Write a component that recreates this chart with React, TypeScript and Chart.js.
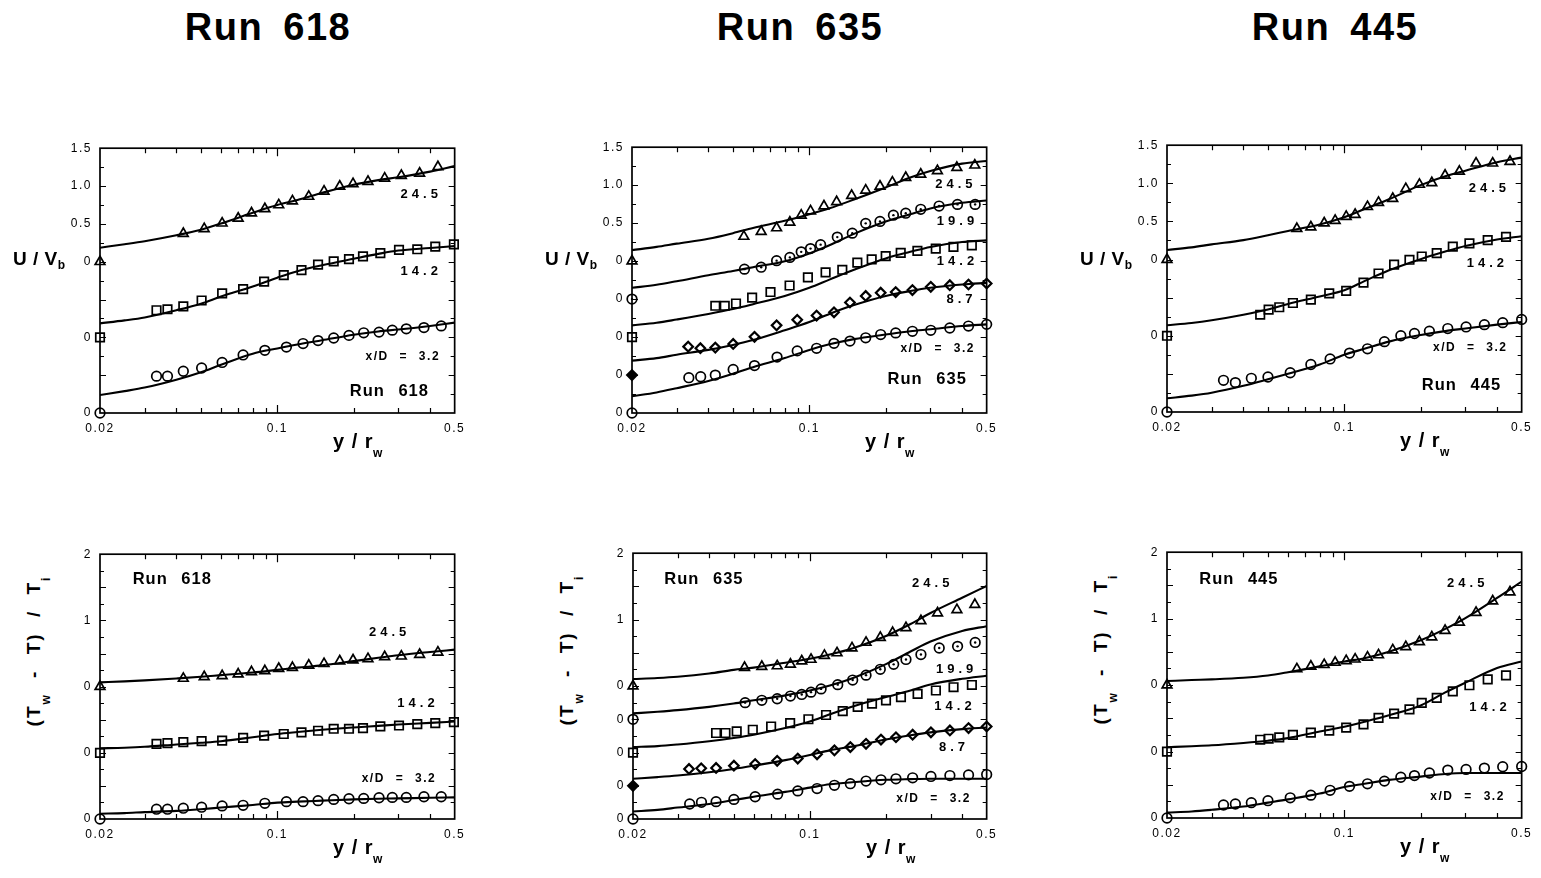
import React, { useEffect, useRef } from 'react';
import { Chart, registerables } from 'chart.js';

Chart.register(...registerables);

const FONT = "'Liberation Sans', Arial, Helvetica, sans-serif";

// ---------- labels ----------
const RUNS = ['Run 618', 'Run 635', 'Run 445'];

// ---------- axes ----------
const CURVE_X = [0.02, 0.025, 0.03, 0.04, 0.05, 0.06, 0.08, 0.1, 0.12, 0.15, 0.2, 0.25, 0.3, 0.4, 0.5];
const X_TICKS = [0.02, 0.03, 0.04, 0.05, 0.06, 0.07, 0.08, 0.09, 0.1, 0.2, 0.3, 0.4, 0.5];
const X_TICK_TEXT: [number, string][] = [[0.02, '0.02'], [0.1, '0.1'], [0.5, '0.5']];
const U_TICK_TEXT: [number, string][] = [[1.5, '1.5'], [1.0, '1.0'], [0.5, '0.5']];
const T_TICK_TEXT: [number, string][] = [[2, '2'], [1, '1']];
const OFFSETS_3 = [0, -1, -2];
const OFFSETS_5 = [0, -0.5, -1, -1.5, -2];

// ---------- Run 618 ----------
const X618_245 = [0.0426, 0.0515, 0.0606, 0.0701, 0.0791, 0.0893, 0.1013, 0.1147, 0.133, 0.1528, 0.1762, 0.1988, 0.2277, 0.2649, 0.3082, 0.3638, 0.4295];
const X618_142 = [0.0334, 0.0369, 0.0426, 0.0503, 0.0606, 0.0733, 0.0887, 0.106, 0.1245, 0.1447, 0.1668, 0.1916, 0.2176, 0.2547, 0.3017, 0.3562, 0.4193, 0.4966];
const X618_32 = [0.0334, 0.0369, 0.0426, 0.0503, 0.0606, 0.0733, 0.0893, 0.1086, 0.1263, 0.1447, 0.1668, 0.1916, 0.219, 0.2517, 0.2839, 0.3224, 0.3784, 0.4427];
const U618_245 = [0.371, 0.435, 0.509, 0.573, 0.642, 0.698, 0.75, 0.802, 0.862, 0.931, 0.996, 1.03, 1.06, 1.103, 1.138, 1.168, 1.254];
const U618_142 = [0.358, 0.371, 0.409, 0.487, 0.582, 0.638, 0.737, 0.823, 0.888, 0.961, 1.004, 1.034, 1.069, 1.112, 1.155, 1.164, 1.198, 1.228];
const U618_32 = [0.487, 0.487, 0.552, 0.595, 0.668, 0.767, 0.828, 0.871, 0.918, 0.957, 0.991, 1.026, 1.06, 1.069, 1.095, 1.112, 1.129, 1.151];
const U618C_245 = [0.185, 0.23, 0.27, 0.349, 0.422, 0.504, 0.647, 0.75, 0.815, 0.909, 1.017, 1.078, 1.116, 1.19, 1.263];
const U618C_142 = [0.185, 0.224, 0.263, 0.358, 0.444, 0.539, 0.672, 0.789, 0.875, 0.953, 1.039, 1.103, 1.147, 1.181, 1.207];
const U618C_32 = [0.237, 0.289, 0.336, 0.44, 0.539, 0.638, 0.784, 0.853, 0.905, 0.961, 1.034, 1.078, 1.103, 1.151, 1.194];
const T618_245 = [0.123, 0.148, 0.163, 0.188, 0.222, 0.237, 0.272, 0.286, 0.321, 0.346, 0.385, 0.4, 0.42, 0.449, 0.459, 0.484, 0.519];
const T618_142 = [0.136, 0.146, 0.16, 0.175, 0.185, 0.225, 0.259, 0.284, 0.309, 0.333, 0.363, 0.363, 0.373, 0.398, 0.412, 0.432, 0.447, 0.462];
const T618_32 = [0.148, 0.148, 0.163, 0.178, 0.198, 0.207, 0.237, 0.262, 0.262, 0.277, 0.296, 0.306, 0.311, 0.321, 0.326, 0.326, 0.336, 0.336];
const T618C_245 = [0.064, 0.079, 0.094, 0.123, 0.148, 0.173, 0.212, 0.252, 0.286, 0.321, 0.385, 0.435, 0.474, 0.523, 0.558];
const T618C_142 = [0.067, 0.077, 0.091, 0.126, 0.151, 0.175, 0.235, 0.284, 0.314, 0.348, 0.383, 0.407, 0.427, 0.452, 0.472];
const T618C_32 = [0.079, 0.089, 0.104, 0.123, 0.148, 0.173, 0.212, 0.247, 0.262, 0.277, 0.296, 0.306, 0.311, 0.321, 0.326];

// ---------- Run 635 ----------
const X635_245 = [0.0552, 0.0646, 0.0743, 0.0838, 0.0929, 0.1011, 0.1142, 0.1281, 0.1468, 0.1668, 0.1899, 0.2125, 0.2399, 0.2749, 0.3198, 0.3814, 0.449];
const X635_199 = [0.0555, 0.0646, 0.0743, 0.0838, 0.0929, 0.1011, 0.1108, 0.1289, 0.1477, 0.1668, 0.1899, 0.2145, 0.2399, 0.2749, 0.3247, 0.3837, 0.4504];
const X635_142 = [0.0426, 0.0464, 0.0514, 0.0595, 0.0703, 0.0836, 0.0987, 0.1159, 0.1349, 0.1546, 0.1761, 0.2, 0.2292, 0.2667, 0.315, 0.3699, 0.437];
const X635_87 = [0.0333, 0.0372, 0.0426, 0.0501, 0.0608, 0.0743, 0.0896, 0.1068, 0.1251, 0.1446, 0.1668, 0.1911, 0.219, 0.2549, 0.3011, 0.3578, 0.424, 0.5];
const X635_32 = [0.0335, 0.0373, 0.0426, 0.0501, 0.0608, 0.0746, 0.0896, 0.1068, 0.1251, 0.1446, 0.1668, 0.1911, 0.219, 0.2549, 0.3011, 0.3578, 0.424, 0.5];
const U635_245 = [0.325, 0.389, 0.437, 0.51, 0.604, 0.66, 0.725, 0.781, 0.863, 0.933, 0.984, 1.039, 1.1, 1.143, 1.19, 1.233, 1.263];
const U635_199 = [0.394, 0.42, 0.506, 0.549, 0.622, 0.665, 0.717, 0.816, 0.868, 0.997, 1.023, 1.105, 1.131, 1.182, 1.225, 1.247, 1.247];
const U635_142 = [0.412, 0.412, 0.442, 0.52, 0.593, 0.679, 0.787, 0.851, 0.886, 0.98, 1.023, 1.066, 1.109, 1.135, 1.165, 1.187, 1.208];
const U635_87 = [0.374, 0.353, 0.361, 0.409, 0.503, 0.654, 0.727, 0.783, 0.826, 0.955, 1.041, 1.084, 1.093, 1.119, 1.162, 1.183, 1.192, 1.205];
const U635_32 = [0.465, 0.478, 0.499, 0.573, 0.624, 0.736, 0.818, 0.852, 0.917, 0.947, 0.99, 1.033, 1.055, 1.076, 1.089, 1.119, 1.145, 1.167];
const U635C_245 = [0.144, 0.187, 0.23, 0.294, 0.368, 0.437, 0.531, 0.617, 0.695, 0.811, 0.97, 1.1, 1.186, 1.284, 1.319];
const U635C_199 = [0.149, 0.188, 0.235, 0.315, 0.37, 0.42, 0.498, 0.601, 0.708, 0.859, 1.022, 1.117, 1.194, 1.268, 1.298];
const U635C_142 = [0.154, 0.188, 0.231, 0.304, 0.369, 0.433, 0.541, 0.649, 0.756, 0.886, 1.036, 1.122, 1.187, 1.251, 1.273];
const U635C_87 = [0.189, 0.223, 0.267, 0.331, 0.396, 0.46, 0.589, 0.697, 0.805, 0.921, 1.041, 1.106, 1.149, 1.192, 1.214];
const U635C_32 = [0.22, 0.271, 0.327, 0.422, 0.517, 0.603, 0.723, 0.831, 0.904, 0.973, 1.033, 1.076, 1.102, 1.145, 1.167];
const T635_245 = [0.278, 0.293, 0.303, 0.327, 0.376, 0.401, 0.46, 0.499, 0.573, 0.657, 0.731, 0.804, 0.878, 0.982, 1.1, 1.149, 1.227];
const T635_199 = [0.251, 0.286, 0.31, 0.35, 0.374, 0.409, 0.458, 0.522, 0.591, 0.665, 0.753, 0.827, 0.901, 0.975, 1.073, 1.098, 1.157];
const T635_142 = [0.294, 0.294, 0.319, 0.343, 0.392, 0.442, 0.501, 0.565, 0.624, 0.688, 0.737, 0.786, 0.835, 0.884, 0.934, 0.983, 1.017];
const T635_87 = [0.253, 0.263, 0.268, 0.302, 0.327, 0.376, 0.41, 0.474, 0.533, 0.583, 0.632, 0.696, 0.73, 0.769, 0.804, 0.833, 0.868, 0.892];
const T635_32 = [0.226, 0.251, 0.261, 0.295, 0.335, 0.374, 0.423, 0.458, 0.507, 0.531, 0.571, 0.59, 0.605, 0.62, 0.64, 0.654, 0.664, 0.669];
const T635C_245 = [0.106, 0.121, 0.14, 0.189, 0.244, 0.278, 0.352, 0.411, 0.475, 0.578, 0.755, 0.935, 1.1, 1.33, 1.508];
const T635C_199 = [0.089, 0.114, 0.138, 0.187, 0.237, 0.286, 0.36, 0.433, 0.51, 0.63, 0.83, 1.02, 1.17, 1.33, 1.402];
const T635C_142 = [0.082, 0.097, 0.122, 0.171, 0.22, 0.269, 0.368, 0.466, 0.575, 0.7, 0.835, 0.934, 1.025, 1.11, 1.156];
const T635C_87 = [0.105, 0.13, 0.154, 0.204, 0.253, 0.302, 0.386, 0.464, 0.533, 0.597, 0.696, 0.76, 0.804, 0.853, 0.878];
const T635C_32 = [0.113, 0.138, 0.172, 0.226, 0.285, 0.335, 0.408, 0.472, 0.522, 0.556, 0.59, 0.6, 0.605, 0.605, 0.605];

// ---------- Run 445 ----------
const X445_245 = [0.065, 0.0738, 0.0833, 0.092, 0.1017, 0.1103, 0.1234, 0.1364, 0.1552, 0.1747, 0.1977, 0.2212, 0.2495, 0.2841, 0.3305, 0.3844, 0.4498];
const X445_142 = [0.0466, 0.0503, 0.0554, 0.0627, 0.0738, 0.0872, 0.1017, 0.119, 0.1364, 0.1571, 0.1806, 0.2019, 0.2313, 0.2676, 0.3112, 0.3674, 0.4338];
const X445_32 = [0.0334, 0.0372, 0.043, 0.05, 0.0612, 0.0738, 0.0879, 0.1048, 0.1234, 0.1439, 0.167, 0.189, 0.2164, 0.2557, 0.3019, 0.3565, 0.421, 0.5];
const U445_245 = [0.405, 0.426, 0.478, 0.512, 0.564, 0.59, 0.693, 0.748, 0.799, 0.929, 0.985, 1.006, 1.105, 1.156, 1.264, 1.264, 1.285];
const U445_142 = [0.276, 0.344, 0.374, 0.43, 0.473, 0.555, 0.589, 0.696, 0.817, 0.933, 0.997, 1.04, 1.083, 1.169, 1.211, 1.254, 1.297];
const U445_32 = [0.416, 0.386, 0.442, 0.459, 0.515, 0.623, 0.696, 0.773, 0.829, 0.923, 1.0, 1.03, 1.061, 1.095, 1.116, 1.146, 1.172, 1.215];
const U445C_245 = [0.126, 0.16, 0.199, 0.255, 0.319, 0.375, 0.461, 0.555, 0.662, 0.791, 0.976, 1.092, 1.165, 1.277, 1.337];
const U445C_142 = [0.138, 0.168, 0.203, 0.276, 0.344, 0.417, 0.516, 0.597, 0.717, 0.859, 1.005, 1.104, 1.177, 1.263, 1.306];
const U445C_32 = [0.18, 0.215, 0.253, 0.343, 0.429, 0.502, 0.623, 0.751, 0.829, 0.923, 1.009, 1.061, 1.095, 1.146, 1.181];
const T445_245 = [0.243, 0.282, 0.307, 0.341, 0.366, 0.39, 0.419, 0.454, 0.528, 0.577, 0.65, 0.724, 0.822, 0.945, 1.092, 1.264, 1.401];
const T445_142 = [0.178, 0.193, 0.212, 0.252, 0.286, 0.315, 0.36, 0.409, 0.507, 0.571, 0.635, 0.733, 0.807, 0.905, 0.998, 1.086, 1.145];
const T445_32 = [0.196, 0.211, 0.231, 0.26, 0.304, 0.344, 0.417, 0.476, 0.515, 0.555, 0.613, 0.638, 0.677, 0.721, 0.731, 0.751, 0.771, 0.775];
const T445C_245 = [0.061, 0.076, 0.086, 0.11, 0.145, 0.194, 0.282, 0.356, 0.405, 0.503, 0.675, 0.847, 1.009, 1.313, 1.558];
const T445C_142 = [0.065, 0.08, 0.094, 0.129, 0.163, 0.202, 0.301, 0.374, 0.448, 0.546, 0.693, 0.89, 1.037, 1.258, 1.356];
const T445C_32 = [0.083, 0.098, 0.123, 0.172, 0.231, 0.28, 0.368, 0.466, 0.515, 0.574, 0.623, 0.663, 0.677, 0.677, 0.677];

// ---------- in-plot notes (data coordinates) ----------
type Note = { text: string; x: number; y: number; align: 'left' | 'right' };
const NOTES_U618: Note[] = [
  { text: '24.5', x: 0.4295, y: 0.888, align: 'right' },
  { text: '14.2', x: 0.4295, y: -0.125, align: 'right' },
  { text: 'x/D = 3.2', x: 0.432, y: -1.259, align: 'right' },
  { text: 'Run 618', x: 0.3924, y: -1.72, align: 'right' },
];
const NOTES_U635: Note[] = [
  { text: '24.5', x: 0.4396, y: 1.005, align: 'right' },
  { text: '19.9', x: 0.4463, y: 0.523, align: 'right' },
  { text: '14.2', x: 0.4463, y: -0.007, align: 'right' },
  { text: '8.7', x: 0.4396, y: -0.502, align: 'right' },
  { text: 'x/D = 3.2', x: 0.4436, y: -1.148, align: 'right' },
  { text: 'Run 635', x: 0.4138, y: -1.556, align: 'right' },
];
const NOTES_U445: Note[] = [
  { text: '24.5', x: 0.4338, y: 0.933, align: 'right' },
  { text: '14.2', x: 0.4259, y: -0.046, align: 'right' },
  { text: 'x/D = 3.2', x: 0.4338, y: -1.162, align: 'right' },
  { text: 'Run 445', x: 0.411, y: -1.656, align: 'right' },
];
const NOTES_T618: Note[] = [
  { text: 'Run 618', x: 0.0269, y: 1.62, align: 'left' },
  { text: '24.5', x: 0.3224, y: 0.815, align: 'right' },
  { text: '14.2', x: 0.417, y: -0.257, align: 'right' },
  { text: 'x/D = 3.2', x: 0.417, y: -1.393, align: 'right' },
];
const NOTES_T635: Note[] = [
  { text: 'Run 635', x: 0.0266, y: 1.606, align: 'left' },
  { text: '24.5', x: 0.3561, y: 1.542, align: 'right' },
  { text: '19.9', x: 0.4429, y: 0.253, align: 'right' },
  { text: '14.2', x: 0.4362, y: -0.312, align: 'right' },
  { text: '8.7', x: 0.4106, y: -0.917, align: 'right' },
  { text: 'x/D = 3.2', x: 0.427, y: -1.69, align: 'right' },
];
const NOTES_T445: Note[] = [
  { text: 'Run 445', x: 0.0268, y: 1.593, align: 'left' },
  { text: '24.5', x: 0.3565, y: 1.524, align: 'right' },
  { text: '14.2', x: 0.4363, y: -0.331, align: 'right' },
  { text: 'x/D = 3.2', x: 0.4233, y: -1.68, align: 'right' },
];

// ---------- layout / styles ----------
type Sym = 'tri' | 'cdot' | 'sq' | 'dia' | 'circ';
const SYM_STYLE: Record<Sym, { style: string; radius: number }> = {
  tri: { style: 'triangle', radius: 5.6 },
  cdot: { style: 'circle', radius: 4.8 },
  sq: { style: 'rect', radius: 6 },
  dia: { style: 'rectRot', radius: 4.8 },
  circ: { style: 'circle', radius: 4.8 },
};

type Series = { sym: Sym; offset: number; x: number[]; y: number[]; curve: number[] };
type Panel = {
  row: number;
  box: [number, number, number, number];
  yMin: number;
  yMax: number;
  yText: [number, string][];
  series: Series[];
  notes: Note[];
};

const AXIS_W = 44;
const PAD_T = 10;
const PAD_R = 16;
const AXIS_H = 26;

const PANELS: Panel[] = [
  {
    row: 0, box: [100, 143, 455, 413], yMin: -2, yMax: 1.5, yText: U_TICK_TEXT, notes: NOTES_U618,
    series: [
      { sym: 'tri', offset: OFFSETS_3[0], x: X618_245, y: U618_245, curve: U618C_245 },
      { sym: 'sq', offset: OFFSETS_3[1], x: X618_142, y: U618_142, curve: U618C_142 },
      { sym: 'circ', offset: OFFSETS_3[2], x: X618_32, y: U618_32, curve: U618C_32 },
    ],
  },
  {
    row: 0, box: [632, 142, 987, 413], yMin: -2, yMax: 1.5, yText: U_TICK_TEXT, notes: NOTES_U635,
    series: [
      { sym: 'tri', offset: OFFSETS_5[0], x: X635_245, y: U635_245, curve: U635C_245 },
      { sym: 'cdot', offset: OFFSETS_5[1], x: X635_199, y: U635_199, curve: U635C_199 },
      { sym: 'sq', offset: OFFSETS_5[2], x: X635_142, y: U635_142, curve: U635C_142 },
      { sym: 'dia', offset: OFFSETS_5[3], x: X635_87, y: U635_87, curve: U635C_87 },
      { sym: 'circ', offset: OFFSETS_5[4], x: X635_32, y: U635_32, curve: U635C_32 },
    ],
  },
  {
    row: 0, box: [1167, 140, 1522, 412], yMin: -2, yMax: 1.5, yText: U_TICK_TEXT, notes: NOTES_U445,
    series: [
      { sym: 'tri', offset: OFFSETS_3[0], x: X445_245, y: U445_245, curve: U445C_245 },
      { sym: 'sq', offset: OFFSETS_3[1], x: X445_142, y: U445_142, curve: U445C_142 },
      { sym: 'circ', offset: OFFSETS_3[2], x: X445_32, y: U445_32, curve: U445C_32 },
    ],
  },
  {
    row: 1, box: [100, 549, 455, 819], yMin: -2, yMax: 2, yText: T_TICK_TEXT, notes: NOTES_T618,
    series: [
      { sym: 'tri', offset: OFFSETS_3[0], x: X618_245, y: T618_245, curve: T618C_245 },
      { sym: 'sq', offset: OFFSETS_3[1], x: X618_142, y: T618_142, curve: T618C_142 },
      { sym: 'circ', offset: OFFSETS_3[2], x: X618_32, y: T618_32, curve: T618C_32 },
    ],
  },
  {
    row: 1, box: [633, 548, 987, 819], yMin: -2, yMax: 2, yText: T_TICK_TEXT, notes: NOTES_T635,
    series: [
      { sym: 'tri', offset: OFFSETS_5[0], x: X635_245, y: T635_245, curve: T635C_245 },
      { sym: 'cdot', offset: OFFSETS_5[1], x: X635_199, y: T635_199, curve: T635C_199 },
      { sym: 'sq', offset: OFFSETS_5[2], x: X635_142, y: T635_142, curve: T635C_142 },
      { sym: 'dia', offset: OFFSETS_5[3], x: X635_87, y: T635_87, curve: T635C_87 },
      { sym: 'circ', offset: OFFSETS_5[4], x: X635_32, y: T635_32, curve: T635C_32 },
    ],
  },
  {
    row: 1, box: [1167, 547, 1522, 818], yMin: -2, yMax: 2, yText: T_TICK_TEXT, notes: NOTES_T445,
    series: [
      { sym: 'tri', offset: OFFSETS_3[0], x: X445_245, y: T445_245, curve: T445C_245 },
      { sym: 'sq', offset: OFFSETS_3[1], x: X445_142, y: T445_142, curve: T445C_142 },
      { sym: 'circ', offset: OFFSETS_3[2], x: X445_32, y: T445_32, curve: T445C_32 },
    ],
  },
];

const near = (a: number, b: number) => Math.abs(a - b) < 1e-9;

function buildDatasets(panel: Panel) {
  const ds: any[] = [];
  panel.series.forEach((s) => {
    const st = SYM_STYLE[s.sym];
    const bw = s.sym === 'dia' ? 2.2 : 1.7;
    // model curve
    ds.push({
      data: CURVE_X.map((x, i) => ({ x, y: s.curve[i] + s.offset })),
      showLine: true,
      borderColor: '#000',
      borderWidth: 2.1,
      pointRadius: 0,
      cubicInterpolationMode: 'monotone',
      fill: false,
    });
    // measurements
    const pts = s.x.map((x, i) => ({ x, y: s.y[i] + s.offset }));
    ds.push({
      data: pts,
      showLine: false,
      pointStyle: st.style,
      pointRadius: st.radius,
      pointBorderColor: '#000',
      pointBackgroundColor: 'rgba(0,0,0,0)',
      pointBorderWidth: bw,
      clip: false,
    });
    if (s.sym === 'cdot') {
      ds.push({ data: pts, showLine: false, pointStyle: 'circle', pointRadius: 1.2, pointBorderWidth: 0, pointBackgroundColor: '#000', clip: false });
    }
    // zero marker on the axis
    const zero = [{ x: CURVE_X[0], y: s.offset }];
    ds.push({
      data: zero,
      showLine: false,
      pointStyle: st.style,
      pointRadius: st.radius,
      pointBorderColor: '#000',
      pointBackgroundColor: s.sym === 'dia' ? '#000' : 'rgba(0,0,0,0)',
      pointBorderWidth: bw,
      clip: false,
    });
    if (s.sym === 'cdot') {
      ds.push({ data: zero, showLine: false, pointStyle: 'circle', pointRadius: 1.2, pointBorderWidth: 0, pointBackgroundColor: '#000', clip: false });
    }
  });
  return ds;
}

function yTickValues(panel: Panel) {
  const out: number[] = [];
  for (let v = panel.yMin; v <= panel.yMax + 1e-9; v += 0.25) out.push(Math.round(v * 100) / 100);
  return out;
}

function makePlugin(panel: Panel) {
  return {
    id: 'frameTicksNotes',
    beforeDraw(chart: any) {
      (chart.ctx as any).letterSpacing = '1.5px';
    },
    afterDraw(chart: any) {
      const { ctx, chartArea: a, scales } = chart;
      const xs = scales.x;
      const ys = scales.y;
      ctx.save();
      (ctx as any).letterSpacing = '0px';
      ctx.strokeStyle = '#000';
      ctx.lineWidth = 1.2;
      ctx.beginPath();
      X_TICKS.forEach((v) => {
        if (near(v, 0.02) || near(v, 0.5)) return;
        const px = Math.round(xs.getPixelForValue(v)) + 0.5;
        const len = near(v, 0.1) ? 8 : 5;
        ctx.moveTo(px, a.bottom);
        ctx.lineTo(px, a.bottom - len);
        ctx.moveTo(px, a.top);
        ctx.lineTo(px, a.top + len);
      });
      yTickValues(panel).forEach((v) => {
        if (near(v, panel.yMin) || near(v, panel.yMax)) return;
        const py = Math.round(ys.getPixelForValue(v)) + 0.5;
        const major = Math.abs(v * 2 - Math.round(v * 2)) < 1e-6;
        const len = major ? 6 : 4;
        ctx.moveTo(a.left, py);
        ctx.lineTo(a.left + len, py);
        ctx.moveTo(a.right, py);
        ctx.lineTo(a.right - len, py);
      });
      ctx.stroke();
      ctx.lineWidth = 1.7;
      ctx.strokeRect(a.left, a.top, a.right - a.left, a.bottom - a.top);

      ctx.fillStyle = '#000';
      ctx.textBaseline = 'middle';
      panel.notes.forEach((n) => {
        let size = 13;
        let spacing = 4;
        let word = 0;
        if (n.text.startsWith('Run')) {
          size = 16.5;
          spacing = 1;
          word = 8;
        } else if (n.text.startsWith('x/D')) {
          size = 12;
          spacing = 1.5;
          word = 6;
        }
        ctx.font = `bold ${size}px ${FONT}`;
        (ctx as any).letterSpacing = `${spacing}px`;
        (ctx as any).wordSpacing = `${word}px`;
        ctx.textAlign = n.align;
        const px = xs.getPixelForValue(n.x) + (n.align === 'right' ? spacing : 0);
        const py = ys.getPixelForValue(n.y);
        ctx.fillText(n.text, px, py);
      });
      (ctx as any).letterSpacing = '0px';
      (ctx as any).wordSpacing = '0px';
      ctx.restore();
    },
  };
}

function PanelChart({ panel }: { panel: Panel }) {
  const ref = useRef<HTMLCanvasElement>(null);
  const [l, t, r, b] = panel.box;
  const W = r - l + AXIS_W + PAD_R;
  const H = b - t + PAD_T + AXIS_H;
  useEffect(() => {
    if (!ref.current) return;
    const yTicks = yTickValues(panel);
    const chart = new Chart(ref.current, {
      type: 'scatter',
      data: { datasets: buildDatasets(panel) },
      options: {
        animation: false,
        responsive: false,
        maintainAspectRatio: false,
        devicePixelRatio: 1,
        events: [],
        layout: { padding: { top: PAD_T, right: PAD_R, left: 0, bottom: 0 } },
        plugins: { legend: { display: false }, tooltip: { enabled: false }, title: { display: false } },
        scales: {
          x: {
            type: 'logarithmic',
            min: 0.02,
            max: 0.5,
            bounds: 'data',
            grid: { display: false, drawTicks: false, tickLength: 0 },
            border: { display: false },
            afterBuildTicks: (s: any) => {
              s.ticks = X_TICKS.map((v) => ({ value: v }));
            },
            afterFit: (s: any) => {
              s.height = AXIS_H;
            },
            ticks: {
              autoSkip: false,
              maxRotation: 0,
              minRotation: 0,
              padding: 8,
              color: '#000',
              font: { family: FONT, size: 12 },
              callback: (v: any) => {
                const hit = X_TICK_TEXT.find(([k]) => near(k, Number(v)));
                return hit ? hit[1] : '';
              },
            },
          },
          y: {
            type: 'linear',
            min: panel.yMin,
            max: panel.yMax,
            bounds: 'data',
            grid: { display: false, drawTicks: false, tickLength: 0 },
            border: { display: false },
            afterBuildTicks: (s: any) => {
              s.ticks = yTicks.map((v) => ({ value: v }));
            },
            afterFit: (s: any) => {
              s.width = AXIS_W;
            },
            ticks: {
              autoSkip: false,
              padding: 8,
              color: '#000',
              font: { family: FONT, size: 12 },
              callback: (v: any) => {
                const n = Number(v);
                const hit = panel.yText.find(([k]) => near(k, n));
                if (hit) return hit[1];
                if (panel.series.some((s) => near(s.offset, n))) return '0';
                return '';
              },
            },
          },
        },
      } as any,
      plugins: [makePlugin(panel)],
    });
    return () => chart.destroy();
  }, [panel]);
  return (
    <canvas
      ref={ref}
      width={W}
      height={H}
      style={{ position: 'absolute', left: l - AXIS_W, top: t - PAD_T, width: W, height: H }}
    />
  );
}

const BASE = 0.8465;

function Label({ x, baseline, size, align, children, style }: any) {
  const common: any = {
    position: 'absolute',
    top: baseline - BASE * size,
    fontSize: size,
    lineHeight: `${size}px`,
    fontWeight: 'bold',
    whiteSpace: 'pre',
    fontFamily: FONT,
    color: '#000',
    ...style,
  };
  if (align === 'center') {
    return <div style={{ ...common, left: x - 200, width: 400, textAlign: 'center' }}>{children}</div>;
  }
  return <div style={{ ...common, left: x }}>{children}</div>;
}

const TITLE_CENTERS = [268, 800, 1335];

export default function App() {
  return (
    <div
      style={{
        position: 'absolute',
        left: 0,
        top: 0,
        width: 1541,
        height: 878,
        background: '#fff',
        overflow: 'hidden',
        fontFamily: FONT,
      }}
    >
      {RUNS.map((r, i) => (
        <Label key={r} x={TITLE_CENTERS[i]} baseline={40} size={38} align="center" style={{ letterSpacing: '1.5px', wordSpacing: '8px' }}>
          {r}
        </Label>
      ))}
      {PANELS.map((p, i) => (
        <PanelChart key={i} panel={p} />
      ))}
      {PANELS.map((p, i) => {
        const [l, t, , b] = p.box;
        return (
          <React.Fragment key={'t' + i}>
            <Label x={l + 233} baseline={b + 35} size={20} align="left" style={{ letterSpacing: '0.5px', wordSpacing: '1px' }}>
              {'y / r'}
              <span style={{ position: 'relative', top: 9, fontSize: 12, letterSpacing: 0 }}>w</span>
            </Label>
            {p.row === 0 ? (
              <Label x={l - 87} baseline={265} size={19} align="left" style={{ letterSpacing: '0.5px' }}>
                {'U / V'}
                <span style={{ position: 'relative', top: 4, fontSize: 12, letterSpacing: 0 }}>b</span>
              </Label>
            ) : (
              <div
                style={{
                  position: 'absolute',
                  left: l - 65,
                  top: t + 102,
                  transform: 'translate(-50%, -50%) rotate(-90deg)',
                  fontSize: 19,
                  lineHeight: '19px',
                  fontWeight: 'bold',
                  whiteSpace: 'pre',
                  letterSpacing: '2px',
                  wordSpacing: '8px',
                  fontFamily: FONT,
                  color: '#000',
                }}
              >
                {'(T'}
                <span style={{ position: 'relative', top: 10, fontSize: 12 }}>w</span>
                {' - T) / T'}
                <span style={{ position: 'relative', top: 10, fontSize: 12 }}>i</span>
              </div>
            )}
          </React.Fragment>
        );
      })}
    </div>
  );
}
